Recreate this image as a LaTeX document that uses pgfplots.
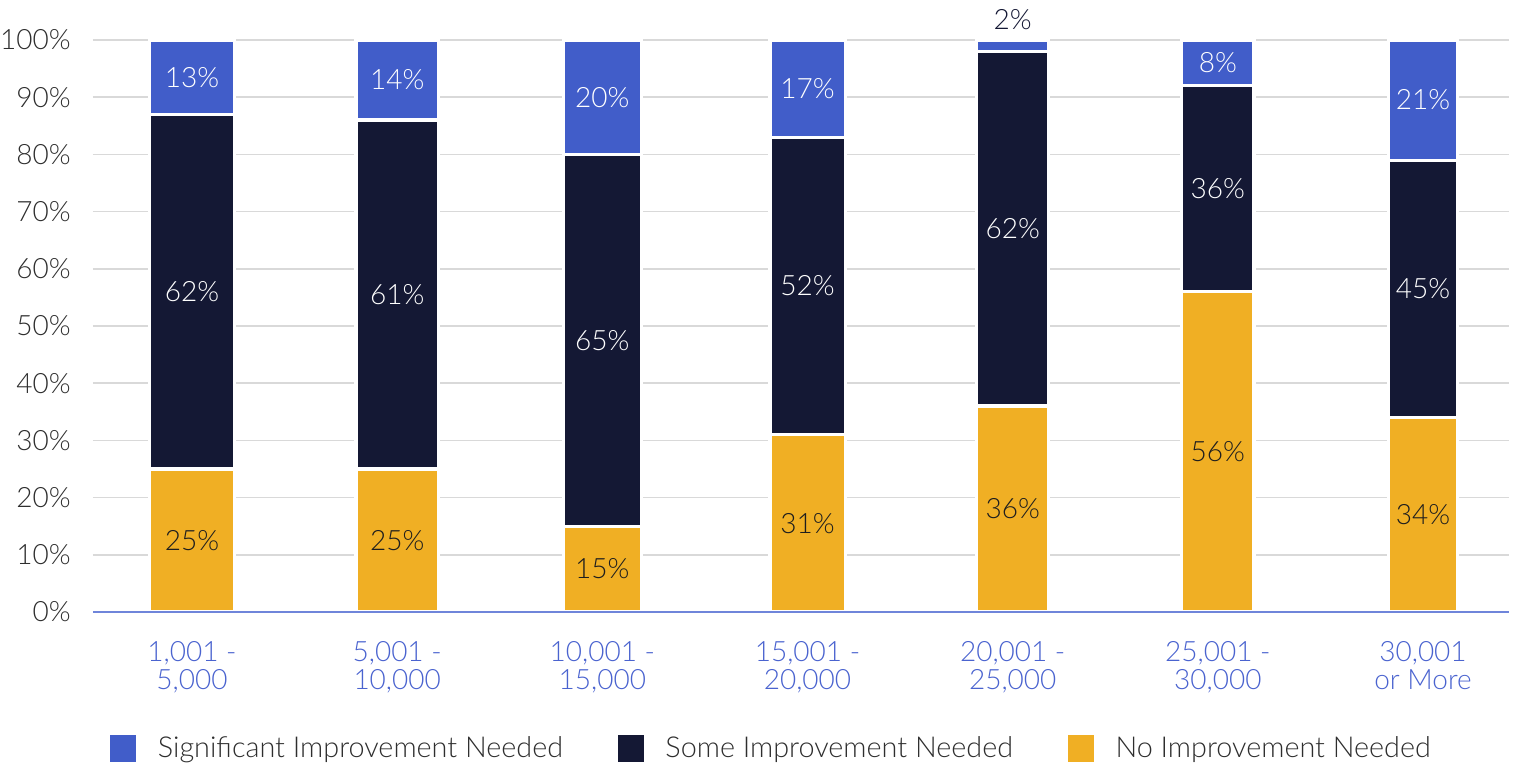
\documentclass[border=0pt]{standalone}
\usepackage{fontspec}
\setmainfont{Lato Light}
\usepackage{pgfplots}
\pgfplotsset{compat=1.18}
\usepackage{pgfplotstable}

\definecolor{sigblue}{HTML}{415DC9}
\definecolor{somenavy}{HTML}{141834}
\definecolor{noyellow}{HTML}{F0AF24}
\definecolor{gridgray}{HTML}{D9D9D9}
\definecolor{axisblue}{HTML}{6F85DA}
\definecolor{ticktext}{HTML}{2E2E2E}
\definecolor{catblue}{HTML}{4A63CF}
\definecolor{darktext}{HTML}{1E1E1E}

% share of respondents per organisation size (percent)
\pgfplotstableread{
x sig some none
0 13 62 25
1 14 61 25
2 20 65 15
3 17 52 31
4 2  62 36
5 8  36 56
6 21 45 34
}\shares

\newcommand{\labfont}{\fontsize{14}{14}\selectfont}
% segment label: small segments get their label above the bar in dark text
\newcommand{\seglabel}{%
  \pgfkeys{/pgf/number format/.cd,fixed,precision=0,assume math mode=true}%
  \pgfmathprintnumberto{\rawy}{\lab}%
  \ifdim\lab pt<5pt\color{somenavy}\fi\lab\%}

\pgfplotsset{
  frame/.style={at={(46.5pt,76.5pt)}, anchor=south west,
    scale only axis, width=708pt, height=286pt,
    xmin=-0.4825, xmax=6.419, ymin=0, ymax=100},
}

\begin{document}
\begin{tikzpicture}
\useasboundingbox (0,0) rectangle (759.5pt,382.5pt);
% frame: grid, tick labels and legend
\begin{axis}[
  frame,
  xtick={0,...,6},
  xticklabels={{1,001 -\\5,000},{5,001 -\\10,000},{10,001 -\\15,000},{15,001 -\\20,000},{20,001 -\\25,000},{25,001 -\\30,000},{30,001\\or More}},
  ytick={0,10,...,100},
  /pgf/number format/assume math mode=true,
  yticklabel={\pgfmathprintnumber{\tick}\%},
  axis line style={draw=none},
  tick style={draw=none},
  major tick length=0pt,
  ymajorgrids, grid style={gridgray, line width=0.75pt},
  tick label style={font=\labfont},
  yticklabel style={text=ticktext, inner sep=0pt, anchor=east, xshift=-11pt},
  xticklabel style={text=catblue, align=center, inner sep=0pt, anchor=north, yshift=-14.5pt},
  legend image code/.code={\fill[#1, draw=none] (0pt,-6.75pt) rectangle (13pt,6.75pt);},
  legend style={draw=none, fill=none, at={(axis description cs:0.012,-0.2386)}, anchor=west,
    legend columns=3, inner sep=0pt, legend cell align=left,
    nodes={inner sep=0pt, font=\fontsize{14.4}{16}\selectfont, text=ticktext},
    /tikz/every odd column/.append style={column sep=10.75pt},
    /tikz/every even column/.append style={column sep=27.5pt}},
]
\addlegendimage{fill=sigblue}
\addlegendentry{Significant Improvement Needed}
\addlegendimage{fill=somenavy}
\addlegendentry{Some Improvement Needed}
\addlegendimage{fill=noyellow}
\addlegendentry{No Improvement Needed}
\coordinate (base west) at (rel axis cs:0,0);
\coordinate (base east) at (rel axis cs:1,0);
\end{axis}
% one stacked column per size group, each with its own bar width
\foreach \i/\lo/\hi/\bw in {0/-0.2/0.2/42.6, 1/0.8/1.2/41.1, 2/1.8/2.2/39.1,
    3/2.8/3.2/37.6, 4/3.8/4.2/36.1, 5/4.8/5.2/36.1, 6/5.8/6.2/34.6} {
\begin{axis}[
  frame, hide axis,
  ybar stacked, bar width=\bw pt,
  restrict x to domain=\lo:\hi,
  every axis plot/.append style={draw=white, line width=1.6pt},
  visualization depends on=rawy \as \rawy,
  nodes near coords={\seglabel},
  every node near coord/.append style={anchor=center, font=\labfont,
    shift={(axis direction cs:0,{ifthenelse(\rawy<5, 4.5, 0)})}},
]
\addplot[fill=noyellow, every node near coord/.append style={text=darktext}]
  table[x=x, y=none] {\shares};
\addplot[fill=somenavy, every node near coord/.append style={text=white}]
  table[x=x, y=some] {\shares};
\addplot[fill=sigblue, every node near coord/.append style={text=white}]
  table[x=x, y=sig] {\shares};
\end{axis}
}
\draw[axisblue, line width=1pt] (base west) -- (base east);
\end{tikzpicture}
\end{document}
